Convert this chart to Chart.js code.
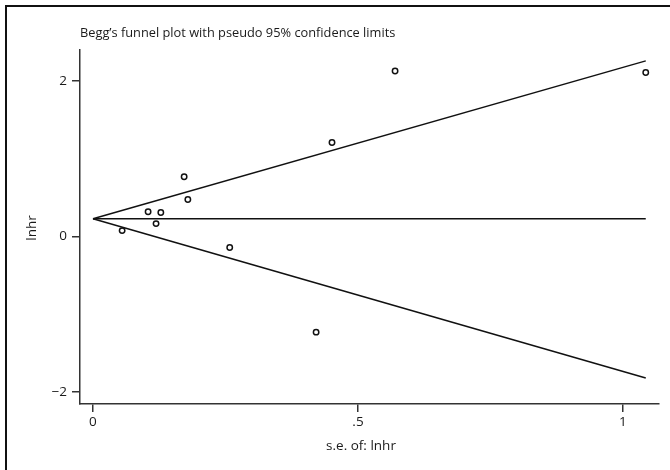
<!DOCTYPE html>
<html>
<head>
<meta charset="utf-8">
<script src="https://cdn.jsdelivr.net/npm/chart.js@4"></script>
<style>
    body { margin: 0; background: #fff; }
    #wrap { position: relative; width: 670px; height: 470px; overflow: hidden; }
    #frame { position: absolute; left: 5px; top: 5px; width: 700px; height: 500px;
             border-left: 2px solid #111; border-top: 2px solid #111; }
    canvas { position: absolute; left: 0; top: 0; }
</style>
</head>
<body>
<div id="wrap">
    <div id="frame"></div>
    <canvas id="chart" width="670" height="470"></canvas>
</div>
<script>
// Study points
const seValues   = [0.055, 0.104, 0.119, 0.128, 0.172, 0.179, 0.258, 0.421, 0.451, 0.570, 1.043];
const lnhrValues = [0.077, 0.32, 0.167, 0.31, 0.77, 0.476, -0.14, -1.23, 1.21, 2.13, 2.11];

// Pseudo 95% limits and pooled estimate (end points)
const limitSe    = [0, 1.043];
const upperLimit = [0.23, 2.26];
const lowerLimit = [0.23, -1.82];
const pooled     = [0.23, 0.23];

const xTicks = [0, 0.5, 1];
const xTickLabels = ['0', '.5', '1'];
const yTicks = [-2, 0, 2];
const yTickLabels = ['\u22122', '0', '2'];

const toPoints = (xs, ys) => xs.map((x, i) => ({ x, y: ys[i] }));

const lineStyle = {
    showLine: true, borderColor: '#111', borderWidth: 1.5,
    pointRadius: 0, fill: false
};

// Titles drawn in canvas
const titles = {
    id: 'titles',
    afterDraw(chart) {
        const ctx = chart.ctx;
        ctx.save();
        ctx.fillStyle = '#1a1a1a';
        ctx.font = '12.8px "Open Sans"';
        ctx.textBaseline = 'middle';
        ctx.textAlign = 'left';
        ctx.fillText('Begg\u2019s funnel plot with pseudo 95% confidence limits', 80, 33);
        ctx.textAlign = 'center';
        ctx.font = '13.5px "Open Sans"';
        ctx.fillText('s.e. of: lnhr', 361, 446);
        ctx.translate(32, 228);
        ctx.rotate(-Math.PI / 2);
        ctx.fillText('lnhr', 0, 0);
        ctx.restore();
    }
};

new Chart(document.getElementById('chart'), {
    type: 'scatter',
    data: {
        datasets: [
            { ...lineStyle, data: toPoints(limitSe, upperLimit) },
            { ...lineStyle, data: toPoints(limitSe, lowerLimit) },
            { ...lineStyle, data: toPoints(limitSe, pooled) },
            {
                data: toPoints(seValues, lnhrValues),
                pointRadius: 2.7, pointBorderWidth: 1.5,
                pointBorderColor: '#111', pointBackgroundColor: '#fff'
            }
        ]
    },
    plugins: [titles],
    options: {
        responsive: false,
        animation: false,
        layout: { padding: { top: 50, right: 11, left: 0, bottom: 0 } },
        plugins: { legend: { display: false }, tooltip: { enabled: false } },
        scales: {
            x: {
                type: 'linear', min: -0.0245, max: 1.068,
                afterBuildTicks: s => { s.ticks = xTicks.map(v => ({ value: v })); },
                afterFit: s => { s.height = 66; },
                ticks: {
                    color: '#1a1a1a', font: { family: 'Open Sans', size: 13.5 }, padding: 2,
                    callback: v => xTickLabels[xTicks.indexOf(v)]
                },
                grid: { drawOnChartArea: false, drawTicks: true, tickLength: 8, color: '#333', lineWidth: 1.5 },
                border: { display: true, color: '#333', width: 1.5 }
            },
            y: {
                type: 'linear', min: -2.154, max: 2.40,
                afterBuildTicks: s => { s.ticks = yTicks.map(v => ({ value: v })); },
                afterFit: s => { s.width = 80; },
                ticks: {
                    color: '#1a1a1a', font: { family: 'Open Sans', size: 13.5 }, padding: 5,
                    callback: v => yTickLabels[yTicks.indexOf(v)]
                },
                grid: { drawOnChartArea: false, drawTicks: true, tickLength: 8, color: '#333', lineWidth: 1.5 },
                border: { display: true, color: '#333', width: 1.5 }
            }
        }
    }
});
</script>
</body>
</html>
